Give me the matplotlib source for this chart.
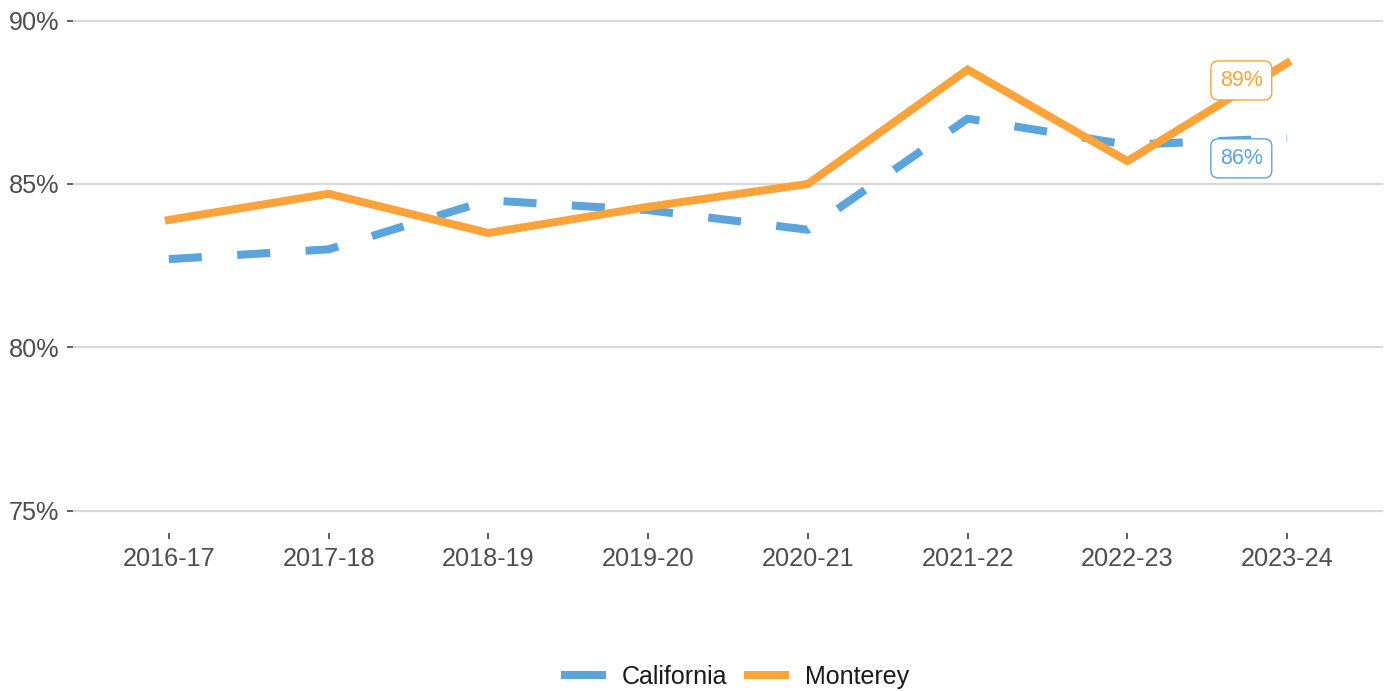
import numpy as np
import matplotlib.pyplot as plt
from matplotlib.lines import Line2D

plt.rcParams['font.family'] = ['Liberation Sans', 'DejaVu Sans']

years = ['2016-17', '2017-18', '2018-19', '2019-20', '2020-21', '2021-22', '2022-23', '2023-24']
california = [82.7, 83.0, 84.5, 84.2, 83.6, 87.0, 86.2, 86.4]
monterey = [83.9, 84.7, 83.5, 84.3, 85.0, 88.5, 85.7, 88.7]
yticks = [75, 80, 85, 90]

blue = '#5BA4DC'
orange = '#FBA33B'

fig = plt.figure(figsize=(13.91, 6.91), dpi=100)
ax = fig.add_axes([73/1391, 1 - 533/691, 1310/1391, 533/691])

x = np.arange(len(years))
ax.plot(x, california, color=blue, lw=5.8, dashes=(4.1, 4.4), dash_capstyle='butt',
        solid_joinstyle='miter')
ax.plot(x, monterey, color=orange, lw=5.8, solid_joinstyle='miter')

# end labels
for vals, col, dy in [(monterey, orange, -12.5), (california, blue, -14.5)]:
    ax.annotate(f'{round(vals[-1]):.0f}%', xy=(x[-1], vals[-1]), xytext=(-33, dy),
                textcoords='offset points', ha='center', va='center',
                fontsize=15.5, color=col,
                bbox=dict(boxstyle='round,pad=0.42,rounding_size=0.35', fc='white', ec=col, lw=1))

ax.set_xlim(-0.6, len(years) - 1 + 0.6)
ax.set_ylim(74.32, 90.63)
ax.set_xticks(x)
ax.set_xticklabels(years)
ax.set_yticks(yticks)
ax.set_yticklabels([f'{v}%' for v in yticks])
ax.yaxis.grid(True, color='#D9D9D9', lw=1.6)
ax.set_axisbelow(True)
for s in ax.spines.values():
    s.set_visible(False)
ax.tick_params(axis='both', labelsize=18.2, colors='#333333', labelcolor='#4D4D4D',
               length=4.3, width=1.1, pad=5.5)

handles = [Line2D([], [], color=blue, lw=5.8), Line2D([], [], color=orange, lw=5.8)]
fig.legend(handles, ['California', 'Monterey'], loc='center',
           bbox_to_anchor=(737/1391, 1 - 677/691), ncol=2, frameon=False,
           fontsize=18, handlelength=1.5, handletextpad=0.8, columnspacing=0.8,
           labelcolor='#1A1A1A')

fig.savefig('out.png', dpi=100)
